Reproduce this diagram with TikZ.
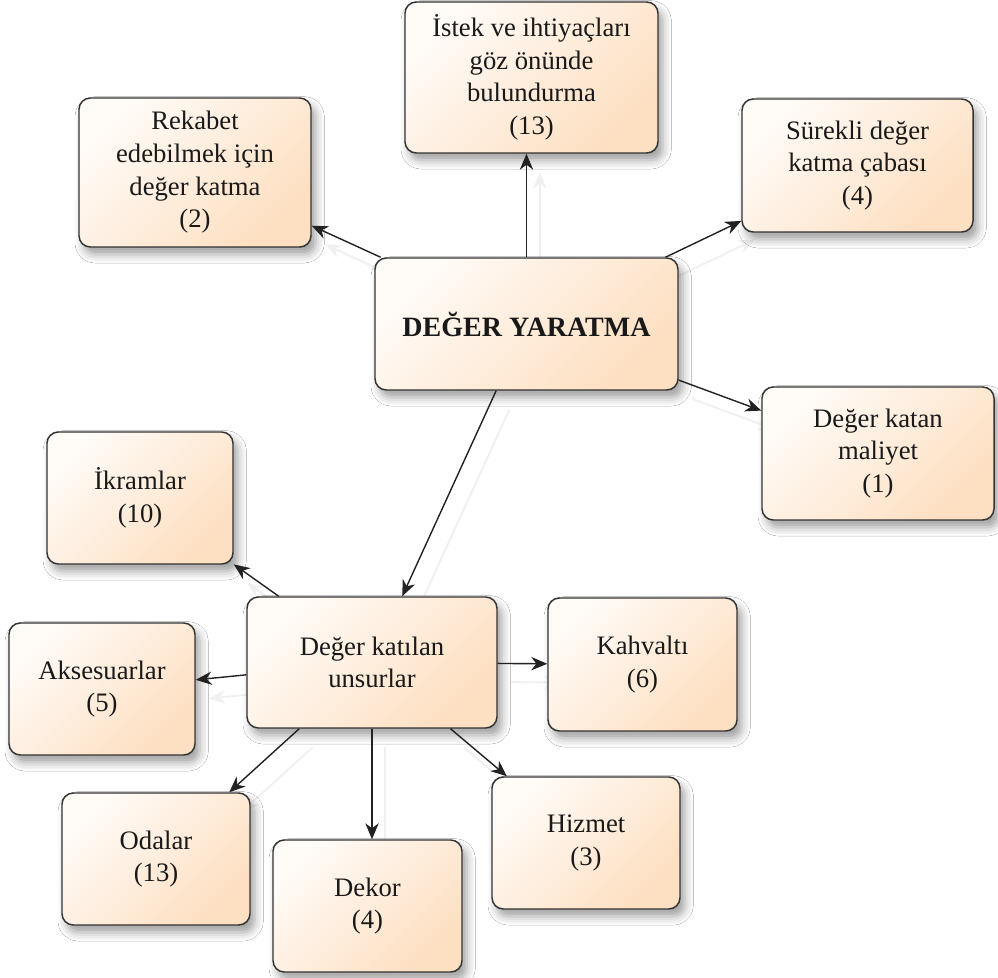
\documentclass[tikz,border=0pt]{standalone}
\usepackage{fontspec}
\setmainfont{Liberation Serif}
\usetikzlibrary{arrows.meta,shadows.blur}

\definecolor{boxlight}{HTML}{FFFBF7}
\definecolor{boxpeach}{HTML}{FDDFC1}
\definecolor{boxline}{HTML}{333333}
\definecolor{linkline}{HTML}{222222}

\tikzset{
  slot/.style={inner sep=0pt, outer sep=0.55pt},
  idea/.style={slot, draw=boxline, line width=1.1pt, rounded corners=8.5pt,
    top color=boxlight, bottom color=boxpeach, shading angle=45,
    align=center, text=black!90,
    font=\fontsize{20}{24.5}\selectfont,
    blur shadow={shadow xshift=3.5pt, shadow yshift=-5.5pt,
      shadow blur radius=6.5pt, shadow opacity=38}},
  tip/.style={-{Stealth[length=12pt,width=10pt,inset=3.8pt]}},
  link/.style={tip, draw=linkline, line width=1.05pt},
  linkghost/.style={tip, draw=black!6, line width=1.4pt,
    transform canvas={shift={(10pt,-14pt)}}},
}

% box from its corners (x1,y1) to (x2,y2), in pixel units
\newcommand\boxstyle{idea}
\newcommand\boxtext[1]{#1}
\newcommand\ideabox[6]{%
  \node[\boxstyle, minimum width={(#4-#2)*0.75pt}, minimum height={(#5-#3)*0.75pt}]
    (#1) at ({(#2+#4)/2},{(#3+#5)/2}) {\boxtext{#6}};}

\newcommand\allboxes{%
  % centre
  \ideabox{dy}{375}{258}{678}{390}{\fontsize{21}{24.5}\selectfont\textbf{DEĞER YARATMA}}
  % upper ring
  \ideabox{rek}{79}{98}{311}{247}{Rekabet\\edebilmek için\\değer katma\\(2)}
  \ideabox{ist}{405}{2}{658}{153}{İstek ve ihtiyaçları\\göz önünde\\bulundurma\\(13)}
  \ideabox{sur}{742}{99}{973}{232}{Sürekli değer\\katma çabası\\(4)}
  \ideabox{mal}{762}{387}{994}{520}{Değer katan\\maliyet\\(1)}
  % value-adding elements
  \ideabox{dku}{247}{597}{497}{728}{Değer katılan\\unsurlar}
  \ideabox{ikr}{47}{432}{233}{564}{İkramlar\\(10)}
  \ideabox{aks}{9}{623}{195}{755}{Aksesuarlar\\(5)}
  \ideabox{kah}{548}{598}{737}{731}{Kahvaltı\\(6)}
  \ideabox{oda}{62}{793}{250}{925}{Odalar\\(13)}
  \ideabox{dek}{273}{840}{462}{972}{Dekor\\(4)}
  \ideabox{hiz}{492}{777}{680}{909}{Hizmet\\(3)}}

\newcommand\alllinks[1]{%
  \draw[#1] (dy) -- (rek);
  \draw[#1] (dy.north) -- (dy.north |- ist.south);
  \draw[#1] (dy) -- (sur);
  \draw[#1] (dy) -- (mal);
  \draw[#1] (dy) -- (dku);
  \draw[#1] (dku) -- (ikr);
  \draw[#1] (dku) -- (aks);
  \draw[#1] (dku) -- (kah);
  \draw[#1] (dku) -- (oda);
  \draw[#1] (dku.south) -- (dku.south |- dek.north);
  \draw[#1] (dku) -- (hiz);}

\begin{document}
\begin{tikzpicture}[x=0.75pt, y=-0.75pt]
  \fill[white] (0,0) rectangle (998,977);
  \useasboundingbox (0,0) rectangle (998,977);

  % empty placeholders, so the faint reflections can sit under the boxes
  {\renewcommand\boxstyle{slot}\renewcommand\boxtext[1]{}\allboxes}
  \alllinks{linkghost}

  % the boxes and their connectors
  \allboxes
  \alllinks{link}
\end{tikzpicture}
\end{document}
